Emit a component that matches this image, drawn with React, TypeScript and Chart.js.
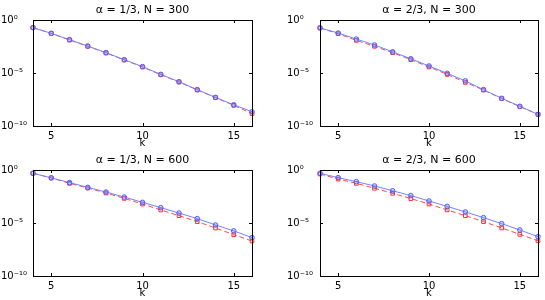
import React, { useEffect, useRef } from 'react';
import { Chart, registerables } from 'chart.js';

Chart.register(...registerables);

const kValues = [4, 5, 6, 7, 8, 9, 10, 11, 12, 13, 14, 15, 16];
const xTickValues = [5, 10, 15];
const yTickValues = [1e-10, 1e-5, 1];
const yTickLabels = ['10\u207B\u00B9\u2070', '10\u207B\u2075', '10\u2070'];
const xLabel = 'k';

const titles = [
  '\u03B1 = 1/3, N = 300',
  '\u03B1 = 2/3, N = 300',
  '\u03B1 = 1/3, N = 600',
  '\u03B1 = 2/3, N = 600',
];

const blueA1N300 = [1.9e-1, 5.5e-2, 1.4e-2, 3.5e-3, 8.3e-4, 1.8e-4, 4.0e-5, 7.4e-6, 1.5e-6, 2.7e-7, 5.0e-8, 1.0e-8, 2.2e-9];
const redA1N300 = [1.9e-1, 5.4e-2, 1.3e-2, 3.3e-3, 7.8e-4, 1.7e-4, 3.7e-5, 6.8e-6, 1.4e-6, 2.5e-7, 4.7e-8, 8.9e-9, 1.45e-9];
const blueA2N300 = [1.8e-1, 5.9e-2, 1.6e-2, 4.4e-3, 1.0e-3, 2.2e-4, 4.6e-5, 9.3e-6, 1.8e-6, 2.7e-7, 4.1e-8, 7.2e-9, 1.26e-9];
const redA2N300 = [1.8e-1, 5.1e-2, 1.2e-2, 3.3e-3, 8.3e-4, 1.8e-4, 3.7e-5, 7.4e-6, 1.3e-6, 2.5e-7, 3.8e-8, 6.6e-9, 1.26e-9];
const blueA1N600 = [4.9e-1, 1.8e-1, 6.5e-2, 2.3e-2, 8.3e-3, 2.8e-3, 8.9e-4, 2.8e-4, 8.7e-5, 2.6e-5, 6.5e-6, 1.8e-6, 4.2e-7];
const redA1N600 = [4.9e-1, 1.8e-1, 5.5e-2, 2.0e-2, 6.8e-3, 2.1e-3, 6.2e-4, 1.7e-4, 4.9e-5, 1.35e-5, 3.4e-6, 7.9e-7, 2.0e-7];
const blueA2N600 = [4.9e-1, 1.9e-1, 7.9e-2, 3.1e-2, 1.1e-2, 3.8e-3, 1.2e-3, 3.7e-4, 1.1e-4, 3.2e-5, 8.7e-6, 2.2e-6, 5.1e-7];
const redA2N600 = [4.2e-1, 1.4e-1, 5.5e-2, 1.9e-2, 6.3e-3, 2.0e-3, 6.2e-4, 1.7e-4, 4.9e-5, 1.35e-5, 3.4e-6, 8.5e-7, 2.1e-7];

const FONT = "'DejaVu Sans', 'Liberation Sans', sans-serif";

const framePlugin = {
  id: 'frame',
  afterDraw(chart: any, _args: any, opts: any) {
    const { ctx, chartArea } = chart;
    const { left, right, top, bottom } = chartArea;
    const xs = chart.scales.x;
    const ys = chart.scales.y;
    ctx.save();
    ctx.strokeStyle = '#000';
    ctx.lineWidth = 1;
    ctx.strokeRect(Math.round(left) + 0.5, Math.round(top) + 0.5, Math.round(right - left), Math.round(bottom - top));
    const tl = 3;
    ctx.beginPath();
    xs.ticks.forEach((t: any) => {
      const px = Math.round(xs.getPixelForValue(t.value)) + 0.5;
      ctx.moveTo(px, bottom);
      ctx.lineTo(px, bottom - tl);
      ctx.moveTo(px, top);
      ctx.lineTo(px, top + tl);
    });
    ys.ticks.forEach((t: any) => {
      const py = Math.round(ys.getPixelForValue(t.value)) + 0.5;
      ctx.moveTo(left, py);
      ctx.lineTo(left + tl, py);
      ctx.moveTo(right, py);
      ctx.lineTo(right - tl, py);
    });
    ctx.stroke();
    if (opts && opts.title) {
      ctx.fillStyle = '#000';
      ctx.font = `11px ${FONT}`;
      ctx.textAlign = 'center';
      ctx.textBaseline = 'middle';
      ctx.fillText(opts.title, (left + right) / 2, top - 10);
    }
    ctx.restore();
  },
};

type PanelProps = {
  title: string;
  blue: number[];
  red: number[];
  x: number;
  y: number;
  w: number;
  yAxisWidth: number;
  padLeft: number;
  padRight: number;
};

function Panel({ title, blue, red, x, y, w, yAxisWidth, padLeft, padRight }: PanelProps) {
  const ref = useRef<HTMLCanvasElement | null>(null);
  useEffect(() => {
    if (!ref.current) return;
    const chart = new Chart(ref.current, {
      type: 'line',
      data: {
        labels: kValues,
        datasets: [
          {
            data: kValues.map((k, i) => ({ x: k, y: blue[i] })),
            borderColor: '#7283ff',
            borderWidth: 1,
            pointStyle: 'circle',
            pointRadius: 2.3,
            pointBorderColor: '#4f5fff',
            pointBackgroundColor: 'rgba(110,120,255,0.3)',
            pointBorderWidth: 1,
            clip: false,
          } as any,
          {
            data: kValues.map((k, i) => ({ x: k, y: red[i] })),
            borderColor: '#ff4a4a',
            borderWidth: 1,
            borderDash: [5, 3],
            pointStyle: 'rect',
            pointRadius: 2.6,
            pointBorderColor: '#ff3030',
            pointBackgroundColor: 'rgba(255,255,255,0)',
            pointBorderWidth: 1,
            clip: false,
          } as any,
        ],
      },
      options: {
        animation: false,
        responsive: false,
        devicePixelRatio: 1,
        layout: { padding: { left: padLeft, right: padRight, top: 20, bottom: 0 } },
        plugins: {
          legend: { display: false },
          tooltip: { enabled: false },
          frame: { title },
        } as any,
        scales: {
          x: {
            type: 'linear',
            min: 4,
            max: 16,
            grid: { display: false, drawTicks: false },
            border: { display: false },
            afterBuildTicks: (s: any) => {
              s.ticks = xTickValues.map((v) => ({ value: v }));
            },
            afterFit: (s: any) => {
              s.height = 24;
            },
            ticks: {
              padding: 4,
              color: '#000',
              font: { family: FONT, size: 10 },
              maxRotation: 0,
              callback: (v: any) => String(v),
            },
            title: {
              display: true,
              text: xLabel,
              color: '#000',
              font: { family: FONT, size: 10 },
              padding: { top: 0, bottom: 1 },
            },
          },
          y: {
            type: 'logarithmic',
            min: 1e-10,
            max: 1,
            grid: { display: false, drawTicks: false },
            border: { display: false },
            afterBuildTicks: (s: any) => {
              s.ticks = yTickValues.map((v) => ({ value: v }));
            },
            afterFit: (s: any) => {
              s.width = yAxisWidth;
            },
            ticks: {
              crossAlign: 'far',
              color: '#000',
              font: { family: FONT, size: 10 },
              callback: (v: any) => yTickLabels[yTickValues.indexOf(Number(v))],
            },
          },
        },
      } as any,
      plugins: [framePlugin],
    });
    return () => chart.destroy();
  }, [title, blue, red, yAxisWidth, padLeft, padRight]);
  return (
    <div style={{ position: 'absolute', left: x, top: y, width: w, height: 150 }}>
      <canvas ref={ref} width={w} height={150} style={{ display: 'block' }} />
    </div>
  );
}

export default function App() {
  return (
    <div style={{ position: 'absolute', left: 0, top: 0, width: 545, height: 300, background: '#fff', overflow: 'hidden' }}>
      <Panel title={titles[0]} blue={blueA1N300} red={redA1N300} x={0} y={0} w={272} yAxisWidth={32} padLeft={1} padRight={20} />
      <Panel title={titles[1]} blue={blueA2N300} red={redA2N300} x={272} y={0} w={273} yAxisWidth={33} padLeft={15} padRight={7} />
      <Panel title={titles[2]} blue={blueA1N600} red={redA1N600} x={0} y={150} w={272} yAxisWidth={32} padLeft={1} padRight={20} />
      <Panel title={titles[3]} blue={blueA2N600} red={redA2N600} x={272} y={150} w={273} yAxisWidth={33} padLeft={15} padRight={7} />
    </div>
  );
}
